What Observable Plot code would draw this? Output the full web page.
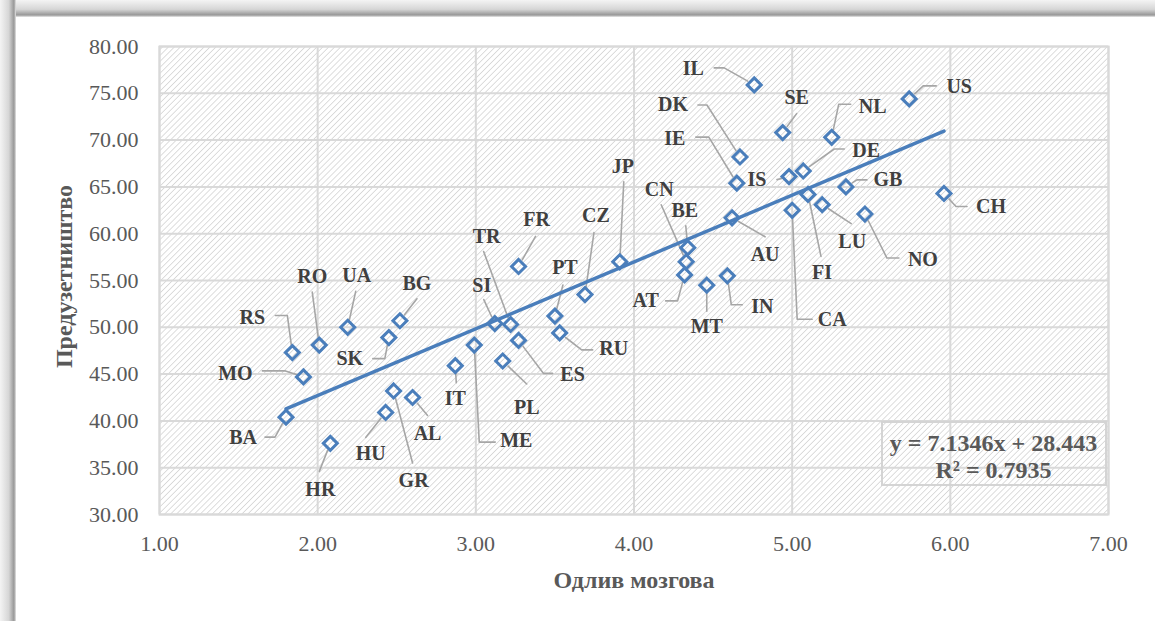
<!DOCTYPE html>
<html><head><meta charset="utf-8">
<script src="https://cdn.jsdelivr.net/npm/d3@7"></script>
<script src="https://cdn.jsdelivr.net/npm/@observablehq/plot@0.6"></script>
<style>
body{margin:0;background:#fff;}
#wrap{position:relative;width:1155px;height:621px;overflow:hidden;background:#fff;}
#topband{position:absolute;left:0;top:0;width:1155px;height:17px;background:linear-gradient(to bottom,#f4f4f4 0%,#d6d6d6 55%,#9c9c9c 85%,#b8b8b8 95%,#fff 100%);}
#leftband{position:absolute;left:0;top:0;width:16px;height:621px;background:linear-gradient(to right,#f4f4f4 0%,#d6d6d6 55%,#9c9c9c 85%,#b8b8b8 95%,#fff 100%);}
#chart{position:absolute;left:0;top:0;}
</style></head>
<body><div id="wrap"><div id="topband"></div><div id="leftband"></div><div id="chart"></div></div>
<script>
// ---- data ----
const countries = ["IL","SE","NL","US","DK","IE","IS","DE","GB","FI","LU","CA","NO","CH","AU","BE","CN","AT","MT","IN","JP","CZ","FR","PT","RU","TR","SI","ES","ME","PL","IT","AL","GR","HU","HR","BA","MO","RS","RO","UA","SK","BG"];
const brainDrain = [4.76,4.94,5.25,5.74,4.67,4.65,4.98,5.07,5.34,5.10,5.19,5.00,5.46,5.96,4.62,4.34,4.33,4.32,4.46,4.59,3.91,3.69,3.27,3.50,3.53,3.22,3.12,3.27,2.99,3.17,2.87,2.60,2.48,2.43,2.08,1.80,1.91,1.84,2.01,2.19,2.45,2.52];
const entrepreneurship = [75.9,70.8,70.3,74.4,68.2,65.4,66.1,66.7,65.0,64.2,63.1,62.5,62.1,64.3,61.7,58.5,57.0,55.6,54.5,55.5,57.0,53.5,56.5,51.2,49.4,50.3,50.4,48.6,48.1,46.4,45.9,42.5,43.2,40.9,37.6,40.4,44.7,47.3,48.1,50.0,48.9,50.7];
const trendSlope = 7.1346;
const trendIntercept = 28.443;
const rSquared = 0.7935;
const xTicks = [1,2,3,4,5,6,7];
const yTicks = [30,35,40,45,50,55,60,65,70,75,80];
const xTitle = "Одлив мозгова";
const yTitle = "Предузетништво";

// ---- label layout (pixel offsets from each point): label centre, leader start, optional elbow ----
const labelLayout = {
  IL:[[-61,-16],[-40,-17],[-30,-17]], SE:[[14,-35],[14,-19]], NL:[[41,-31],[19,-33],[7,-33]],
  US:[[50,-12],[27,-13],[14,-13]], DK:[[-67,-52],[-42,-52],[-33,-52]], IE:[[-62,-45],[-41,-46],[-28,-46]],
  IS:[[-32,3],[-12,3]], DE:[[63,-20],[41,-22],[31,-22]], GB:[[42,-7],[21,-7],[11,-7]],
  FI:[[14,78],[13,62]], LU:[[30,37],[29,19]], CA:[[40,109],[20,109],[5,109]],
  NO:[[58,46],[34,44],[22,44]], CH:[[47,13],[23,13],[12,13]], AU:[[33,37],[33,19]],
  BE:[[-3,-37],[-2,-22]], CN:[[-27,-72],[-25,-57]], AT:[[-39,26],[-19,26],[-7,26]],
  MT:[[0,41],[0,26]], IN:[[35,31],[15,29],[4,29]], JP:[[3,-95],[4,-80]], CZ:[[11,-79],[9,-62]],
  FR:[[18,-47],[17,-30]], PT:[[10,-48],[8,-31]], RU:[[54,16],[33,17],[22,17]],
  TR:[[-24,-88],[-27,-73]], SI:[[-13,-38],[-11,-24]], ES:[[54,34],[34,33],[25,33]],
  ME:[[42,96],[21,97],[5,97]], PL:[[24,47],[24,23]], IT:[[0,33],[1,17]], AL:[[15,36],[15,18]],
  GR:[[20,90],[19,72]], HU:[[-15,41],[-20,25]], HR:[[-10,46],[-11,28]], BA:[[-43,20],[-21,20],[-11,20]],
  MO:[[-68,-3],[-41,-6],[-18,-6]], RS:[[-40,-35],[-17,-37],[-5,-37]], RO:[[-7,-68],[-7,-53]],
  UA:[[9,-52],[8,-36]], SK:[[-39,21],[-16,21],[-4,21]], BG:[[17,-37],[17,-22]]
};

const W = 1155, H = 621, mL = 159, mR = 47, mT = 46, mB = 107;
const xDom = [1,7], yDom = [30,80];
const kx = (W-mL-mR)/(xDom[1]-xDom[0]);
const ky = (H-mT-mB)/(yDom[1]-yDom[0]);

const pts = countries.map((c,i)=>({c, x: brainDrain[i], y: entrepreneurship[i]}));
const labels = pts.map(p => {
  const [dx,dy] = labelLayout[p.c][0];
  return {c: p.c, x: p.x + dx/kx, y: p.y - dy/ky};
});
const leaders = [];
pts.forEach(p => {
  const L = labelLayout[p.c];
  const verts = L.slice(1);
  const last = verts[verts.length-1];
  const len = Math.hypot(last[0], last[1]);
  const gap = 7.5;
  const endPt = [last[0]/len*gap, last[1]/len*gap];
  [...verts, endPt].forEach(([dx,dy],k) => leaders.push({c:p.c, k, x: p.x + dx/kx, y: p.y - dy/ky}));
});
const xExt = d3.extent(brainDrain);
const trend = xExt.map(x => ({x, y: trendSlope*x + trendIntercept}));

const serif = "'Liberation Serif','Times New Roman',serif";
const titleOpts = {fontWeight: "bold", fontSize: 24, fill: "#595959", fontFamily: serif, textAnchor: "middle", lineAnchor: "middle"};
const fig = Plot.plot({
  width: W, height: H,
  marginLeft: mL, marginRight: mR, marginTop: mT, marginBottom: mB,
  style: {fontFamily: serif, fontSize: "22px", color: "#595959", background: "transparent", overflow: "visible"},
  x: {domain: xDom},
  y: {domain: yDom},
  marks: [
    Plot.frame({fill: "url(#hatch)", stroke: "none"}),
    Plot.gridX(xTicks, {stroke: "#d9d9d9", strokeOpacity: 1, strokeWidth: 2}),
    Plot.gridY(yTicks, {stroke: "#d9d9d9", strokeOpacity: 1, strokeWidth: 2}),
    Plot.frame({stroke: "#d9d9d9", strokeWidth: 2}),
    Plot.axisX(xTicks, {tickSize: 0, tickPadding: 21, tickFormat: d3.format(".2f"), label: null}),
    Plot.axisY(yTicks, {tickSize: 0, tickPadding: 21, tickFormat: d3.format(".2f"), label: null}),
    Plot.line(leaders, {x: "x", y: "y", z: "c", stroke: "#a6a6a6", strokeWidth: 1.6}),
    Plot.line(trend, {x: "x", y: "y", stroke: "#4a7ebb", strokeWidth: 3.5}),
    Plot.dot(pts, {x: "x", y: "y", symbol: "diamond2", r: 6.3, stroke: "#4a7ebb", strokeWidth: 3, fill: "none"}),
    Plot.text(labels, {x: "x", y: "y", text: "c", fontWeight: "bold", fontSize: 20, fill: "#404040", fontFamily: serif}),
    Plot.text([xTitle], {frameAnchor: "bottom", dy: 66, ...titleOpts}),
    Plot.text([yTitle], {frameAnchor: "left", dx: -95, dy: -4, rotate: -90, ...titleOpts}),
    Plot.text([`y = ${trendSlope}x + ${trendIntercept}`], {frameAnchor: "bottom-right", dx: -115, dy: -71, ...titleOpts}),
    Plot.text([`R² = ${rSquared}`], {frameAnchor: "bottom-right", dx: -115, dy: -44, ...titleOpts})
  ]
});
const svg = d3.select(fig);
const defs = svg.insert("defs", ":first-child");
const pat = defs.append("pattern").attr("id","hatch").attr("patternUnits","userSpaceOnUse")
  .attr("width",4.2).attr("height",4.2).attr("patternTransform","rotate(45)");
pat.append("rect").attr("width",4.2).attr("height",4.2).attr("fill","#ffffff");
pat.append("line").attr("x1",0).attr("y1",0).attr("x2",0).attr("y2",4.2).attr("stroke","#cfcfcf").attr("stroke-width",1.4);
// equation box border
const xr = fig.scale("x").range, yr = fig.scale("y").range;
svg.append("rect").attr("x", xr[1]-226).attr("y", yr[0]-92).attr("width", 224).attr("height", 63)
  .attr("fill","none").attr("stroke","#d4d4d4").attr("stroke-width",2);
document.getElementById("chart").appendChild(fig);
</script></body></html>
